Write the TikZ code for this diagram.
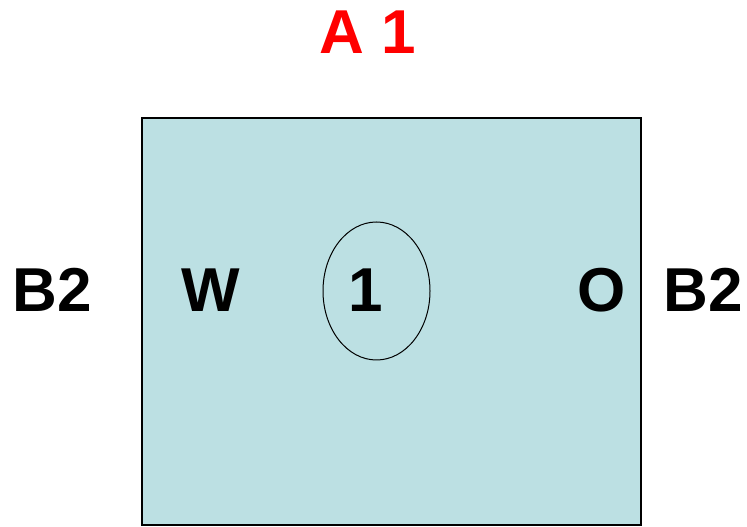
\documentclass[tikz,border=0pt]{standalone}
\usepackage{fontspec}
\setmainfont{Liberation Sans}
\usetikzlibrary{shapes.geometric}
\definecolor{roomfill}{RGB}{188,224,227}

\begin{document}
\begin{tikzpicture}[x=1pt,y=1pt,
    lb/.style={font=\fontsize{62}{62}\selectfont\bfseries, anchor=base, inner sep=0pt},
    room/.style={rectangle,draw,fill=roomfill,line width=1.5pt,minimum width=499pt,minimum height=407pt,inner sep=0pt},
    cell/.style={ellipse,draw,line width=1pt,minimum width=107pt,minimum height=138pt,inner sep=0pt}]
            \useasboundingbox (0,0) rectangle (747,527);
            \node[room] (R) at (391.5,205.5) {};
            \node[cell] (E) at (376.5,236) {};

            \node[lb,red] (A1) at (368,473) {A 1};
            \node[lb] (B2l) at (52,215) {B2};
            \node[lb] (W) at (211,215) {W};
            \node[lb] (n1) at (366,215) {1};
            \node[lb] (O) at (602,215) {O};
            \node[lb] (B2r) at (703,215) {B2};
        \end{tikzpicture}
\end{document}
